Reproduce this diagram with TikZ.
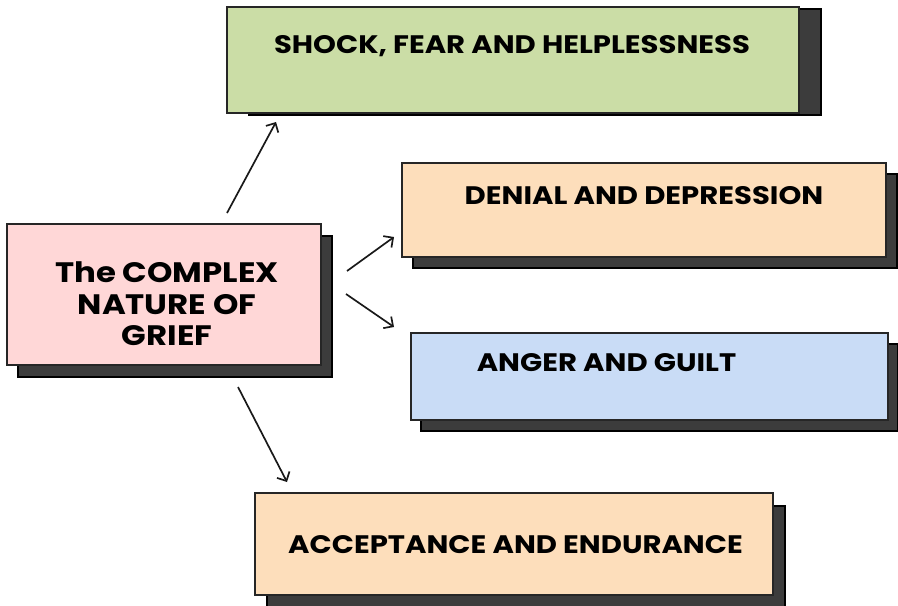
\documentclass[tikz,border=0pt]{standalone}
\usepackage{fontspec}
\setmainfont{Poppins}[BoldFont={* Bold},FakeStretch=1.15]
\usetikzlibrary{arrows.meta,shadows}
\definecolor{shockgreen}{HTML}{CBDDA6}
\definecolor{peach}{HTML}{FDDEBB}
\definecolor{skyblue}{HTML}{C9DCF6}
\definecolor{rosepink}{HTML}{FFD7D7}
\definecolor{shade}{HTML}{3C3C3C}
\begin{document}
\begin{tikzpicture}[x=0.025cm,y=-0.025cm]
            \tikzset{
                stagebox/.style args={#1 shifted #2 and #3}{draw=black!85,line width=1pt,fill=#1,inner sep=0pt,
                    copy shadow={shadow xshift=#2,shadow yshift=#3,fill=shade,draw=black}},
                stagetext/.style={font=\bfseries\fontsize{18}{21}\selectfont,inner sep=0pt},
                link/.style={-{Straight Barb[length=5pt,width=10pt]},line width=1.2pt,black!90},}
            \useasboundingbox (0,0) rectangle (898,605);
            % boxes
            \node[stagebox=rosepink shifted 0.275cm and -0.3cm,minimum width=7.85cm,minimum height=3.525cm] (grief) at (164,294.5) {};
            \node[stagebox=shockgreen shifted 0.55cm and -0.05cm,minimum width=14.3cm,minimum height=2.65cm] (shock) at (513,60) {};
            \node[stagebox=peach shifted 0.275cm and -0.275cm,minimum width=12.1cm,minimum height=2.35cm] (denial) at (644,210) {};
            \node[stagebox=skyblue shifted 0.25cm and -0.275cm,minimum width=11.925cm,minimum height=2.175cm] (anger) at (649.5,376.5) {};
            \node[stagebox=peach shifted 0.3cm and -0.325cm,minimum width=12.95cm,minimum height=2.55cm] (accept) at (514,544) {};
            % texts
            \node[stagetext,align=center,font=\bfseries\fontsize{20}{22.5}\selectfont] (grieftext) at (167,304) {The COMPLEX\\NATURE OF\\GRIEF};
            \node[stagetext] (shocktext) at (512,46.5) {SHOCK, FEAR AND HELPLESSNESS};
            \node[stagetext] (denialtext) at (644,195.5) {DENIAL AND DEPRESSION};
            \node[stagetext] (angertext) at (606.5,362.5) {ANGER AND GUILT};
            \node[stagetext] (accepttext) at (515.5,544.5) {ACCEPTANCE AND ENDURANCE};
            % arrows
            \coordinate (a1) at (227,213); \coordinate (b1) at (276,122);
            \coordinate (a2) at (347,271); \coordinate (b2) at (394,237);
            \coordinate (a3) at (346,294); \coordinate (b3) at (394,327);
            \coordinate (a4) at (238,387); \coordinate (b4) at (287,482);
            \foreach \i in {1,...,4}
                \draw[link] (a\i) -- (b\i);
        \end{tikzpicture}
\end{document}
